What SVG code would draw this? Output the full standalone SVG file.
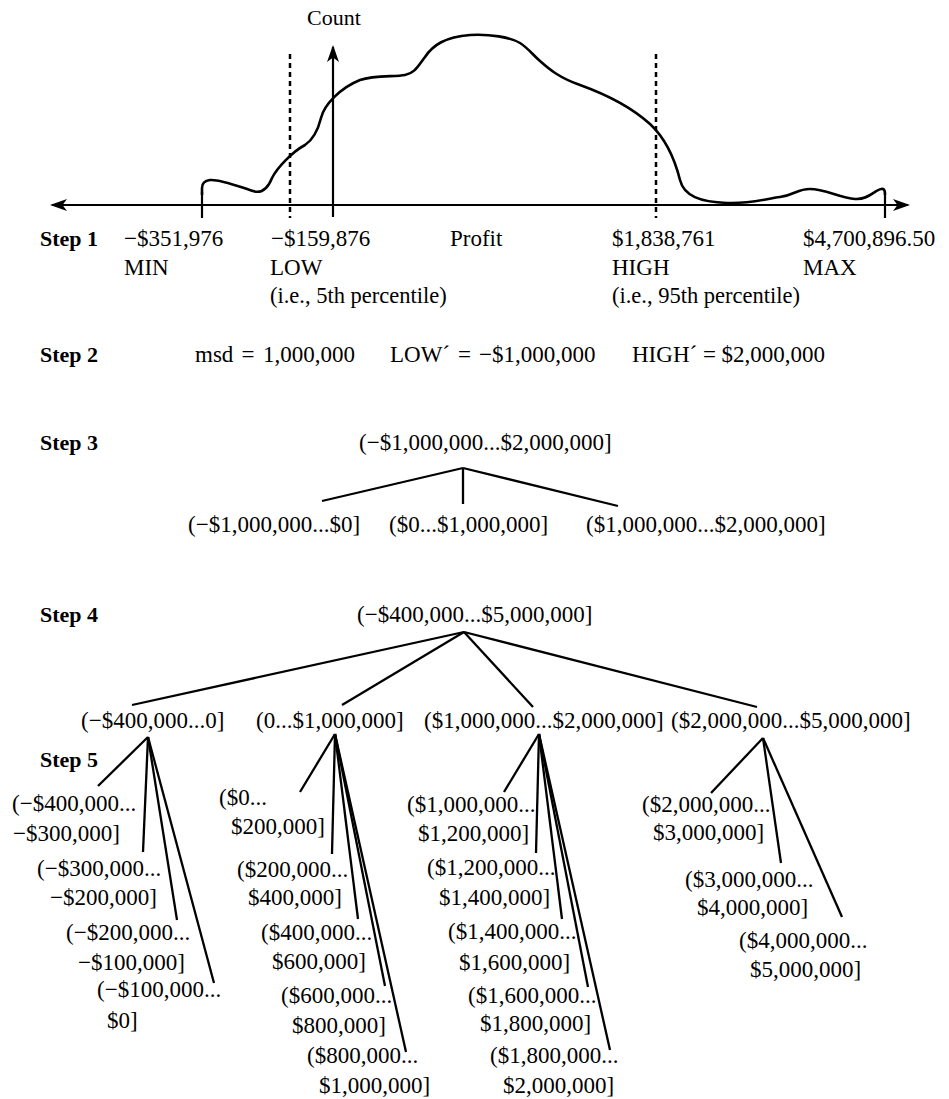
<svg xmlns="http://www.w3.org/2000/svg" width="949" height="1099" viewBox="0 0 949 1099" font-family="'Liberation Serif', 'Times New Roman', Times, serif">
<style>
text{font-family:'Liberation Serif','Times New Roman',Times,serif;font-size:23px;fill:#000}
.b{font-weight:bold;font-size:22px}
.s{font-size:22.5px}
.ln{stroke:#000;stroke-width:2.3;fill:none;stroke-linecap:butt}
.ax{stroke:#000;stroke-width:2.2;fill:none}
.ds{stroke:#000;stroke-width:2.5;fill:none;stroke-dasharray:5 4}
.cv{stroke:#000;stroke-width:2.6;fill:none;stroke-linejoin:round}
</style>
<defs>
<marker id="arr" viewBox="0 0 17 12" refX="15" refY="6" markerWidth="17" markerHeight="12" markerUnits="userSpaceOnUse" orient="auto-start-reverse">
<path d="M0,0 L17,6 L0,12 L4.5,6 Z" fill="#000"/>
</marker>
</defs>
<rect width="949" height="1099" fill="#fff"/>

<g id="chart">
<line class="ax" x1="52" y1="205" x2="908" y2="205" marker-start="url(#arr)" marker-end="url(#arr)"/>
<line class="ax" x1="333" y1="217" x2="333" y2="47" marker-end="url(#arr)"/>
<line class="ax" x1="202" y1="192" x2="202" y2="218"/>
<line class="ax" x1="885" y1="192" x2="885" y2="218"/>
<line class="ds" x1="290" y1="54" x2="290" y2="218"/>
<line class="ds" x1="656" y1="54" x2="656" y2="218"/>
<path class="cv" d="M202,195 L202,188 Q202,181 210,180 C220,179 240,187 253,191 C262,194 268,188 272,178 C277,168 292,152 305,145 C314,139 318,130 321,118 C324,105 340,88 360,80 C375,75 395,77 405,75 C415,73 418,66 425,57 C433,45 445,37 470,35 C490,34 510,37 520,43 C528,48 533,55 540,61 C550,70 560,78 580,85 C605,94 630,106 650,124 C665,138 675,160 680,180 C684,196 700,202 727,203 C750,204 765,199 780,197 C795,195 797,189 810,189 C825,189 840,198 855,199 C868,200 875,190 881,189 C885,188 885,192 885,195"/>
<text x="307" y="25" style="font-size:22px">Count</text>
</g>

<g id="step1">
<text class="b" x="40" y="246">Step 1</text>
<g id="min"><text x="124" y="246">−$351,976</text><text x="124" y="275">MIN</text></g>
<g id="low"><text x="271" y="246">−$159,876</text><text x="270" y="275">LOW</text><text class="s" x="270" y="303">(i.e., 5th percentile)</text></g>
<g id="profit"><text x="450" y="246">Profit</text></g>
<g id="high"><text x="612" y="246">$1,838,761</text><text x="612" y="275">HIGH</text><text class="s" x="612" y="303">(i.e., 95th percentile)</text></g>
<g id="max"><text x="803" y="246">$4,700,896.50</text><text x="803" y="275">MAX</text></g>
</g>

<g id="step2">
<text class="b" x="40" y="362">Step 2</text>
<text x="195" y="362">msd<tspan x="241.5">=</tspan><tspan x="263">1,000,000</tspan></text>
<text x="390" y="362">LOW´<tspan x="458">=</tspan><tspan x="479">−$1,000,000</tspan></text>
<text x="632" y="362">HIGH´ = $2,000,000</text>
</g>

<g id="step3">
<text class="b" x="40" y="450">Step 3</text>
<g id="s3root"><text x="359" y="450">(−$1,000,000...$2,000,000]</text></g>
<g id="s3a"><text x="188" y="532">(−$1,000,000...$0]</text></g>
<g id="s3b"><text x="389" y="532">($0...$1,000,000]</text></g>
<g id="s3c"><text x="586" y="532">($1,000,000...$2,000,000]</text></g>
</g>

<g id="step4">
<text class="b" x="40" y="622">Step 4</text>
<g id="s4root"><text x="357" y="622">(−$400,000...$5,000,000]</text></g>
<g id="s4a"><text x="81" y="728">(−$400,000...0]</text></g>
<g id="s4b"><text x="256" y="728">(0...$1,000,000]</text></g>
<g id="s4c"><text x="424" y="728">($1,000,000...$2,000,000]</text></g>
<g id="s4d"><text x="671" y="728">($2,000,000...$5,000,000]</text></g>
</g>

<g id="step5">
<text class="b" x="40" y="767">Step 5</text>
<g id="g1a"><text x="12" y="811">(−$400,000...</text><text x="13" y="841">−$300,000]</text></g>
<g id="g1b"><text x="37" y="876">(−$300,000...</text><text x="50" y="905">−$200,000]</text></g>
<g id="g1c"><text x="66" y="940">(−$200,000...</text><text x="78" y="970">−$100,000]</text></g>
<g id="g1d"><text x="97" y="997">(−$100,000...</text><text x="107" y="1028">$0]</text></g>

<g id="g2a"><text x="219" y="805">($0...</text><text x="231" y="834">$200,000]</text></g>
<g id="g2b"><text x="237" y="877">($200,000...</text><text x="248" y="905">$400,000]</text></g>
<g id="g2c"><text x="261" y="940">($400,000...</text><text x="272" y="969">$600,000]</text></g>
<g id="g2d"><text x="281" y="1003">($600,000...</text><text x="292" y="1033">$800,000]</text></g>
<g id="g2e"><text x="307" y="1063">($800,000...</text><text x="319" y="1093">$1,000,000]</text></g>

<g id="g3a"><text x="407" y="812">($1,000,000...</text><text x="418" y="841">$1,200,000]</text></g>
<g id="g3b"><text x="427" y="875">($1,200,000...</text><text x="439" y="905">$1,400,000]</text></g>
<g id="g3c"><text x="448" y="939">($1,400,000...</text><text x="459" y="970">$1,600,000]</text></g>
<g id="g3d"><text x="468" y="1003">($1,600,000...</text><text x="480" y="1031">$1,800,000]</text></g>
<g id="g3e"><text x="490" y="1063">($1,800,000...</text><text x="503" y="1093">$2,000,000]</text></g>

<g id="g4a"><text x="642" y="812">($2,000,000...</text><text x="653" y="840">$3,000,000]</text></g>
<g id="g4b"><text x="685" y="887">($3,000,000...</text><text x="697" y="915">$4,000,000]</text></g>
<g id="g4c"><text x="739" y="948">($4,000,000...</text><text x="750" y="977">$5,000,000]</text></g>
</g>

<g id="connectors">
<line class="ln" x1="463" y1="468" x2="322" y2="501"/>
<line class="ln" x1="463" y1="468" x2="463" y2="504"/>
<line class="ln" x1="463" y1="468" x2="618" y2="506"/>

<line class="ln" x1="464" y1="632" x2="132" y2="705"/>
<line class="ln" x1="464" y1="632" x2="342" y2="705"/>
<line class="ln" x1="464" y1="632" x2="533" y2="707"/>
<line class="ln" x1="464" y1="632" x2="757" y2="707"/>

<line class="ln" x1="148" y1="737" x2="98" y2="786"/>
<line class="ln" x1="148" y1="737" x2="143" y2="852"/>
<line class="ln" x1="148" y1="737" x2="177" y2="920"/>
<line class="ln" x1="148" y1="737" x2="214" y2="983"/>

<line class="ln" x1="335" y1="734" x2="300" y2="792"/>
<line class="ln" x1="335" y1="734" x2="332" y2="854"/>
<line class="ln" x1="335" y1="734" x2="358" y2="919"/>
<line class="ln" x1="335" y1="734" x2="385" y2="986"/>
<line class="ln" x1="335" y1="734" x2="406" y2="1052"/>

<line class="ln" x1="539" y1="734" x2="504" y2="792"/>
<line class="ln" x1="539" y1="734" x2="536" y2="853"/>
<line class="ln" x1="539" y1="734" x2="562" y2="919"/>
<line class="ln" x1="539" y1="734" x2="588" y2="987"/>
<line class="ln" x1="539" y1="734" x2="610" y2="1050"/>

<line class="ln" x1="763" y1="738" x2="711" y2="793"/>
<line class="ln" x1="763" y1="738" x2="781" y2="863"/>
<line class="ln" x1="763" y1="738" x2="842" y2="917"/>
</g>
</svg>
